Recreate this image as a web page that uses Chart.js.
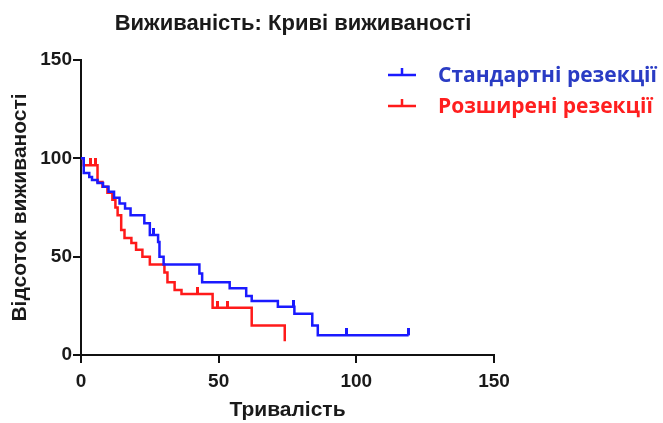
<!DOCTYPE html>
<html>
<head>
<meta charset="utf-8">
<script src="https://cdn.jsdelivr.net/npm/chart.js@4"></script>
<style>
  html, body { margin: 0; padding: 0; background: #fff; }
  #wrap { width: 663px; height: 423px; position: relative; }
</style>
</head>
<body>
<div id="wrap"><canvas id="kmChart"></canvas></div>
<script>
// Стандартні резекції: час події та частка, що вижили після неї
const stdTimes = [0, 1, 3, 4, 6, 8, 10, 12, 14, 16, 18, 23, 25, 28, 28.5, 30, 43, 44, 54, 60, 62, 71.5, 77.5, 84, 86, 119];
const stdSurv  = [100, 92.5, 90.5, 89, 87.5, 85.5, 83, 80, 77, 74.5, 71, 67, 61, 57.5, 50, 46, 41.5, 37, 34, 30, 27.5, 24.5, 21, 15, 10, 10];
const stdCensTimes = [26.5, 77, 96.5, 119];
const stdCensSurv  = [61, 24.5, 10, 10];

// Розширені резекції
const extTimes = [0, 1, 6, 7.8, 9.6, 11.4, 12.5, 13.3, 14.6, 15.8, 18.3, 20, 22.3, 25, 30.3, 31.4, 34, 36.5, 47.8, 62, 74];
const extSurv  = [100, 96.5, 88, 85.5, 82.5, 79, 75, 71, 63.5, 59.5, 57, 53.5, 50, 46, 42, 37, 33, 31, 24, 15, 7];
const extCensTimes = [3.4, 5.3, 42.3, 49.6, 53.2];
const extCensSurv  = [96.5, 96.5, 31, 24, 24];

const chartTitle = 'Виживаність: Криві виживаності';
const seriesNames = ['Стандартні резекції', 'Розширені резекції'];
const lineColors = ['#1a1aff', '#ff1a1a'];
const legendText = ['#2a3cc4', '#ff1f1f'];

const xTickValues = [0, 50, 100, 150];
const yTickValues = [0, 50, 100, 150];

function pts(xs, ys) { return xs.map((x, i) => ({ x: x, y: ys[i] })); }

// censor mark: short tick pointing up from the curve
function censorMark(color) {
    const c = document.createElement('canvas');
    c.width = 3; c.height = 14;
    const g = c.getContext('2d');
    g.fillStyle = color;
    g.fillRect(0, 0, 3, 7);
    return c;
}

// title + legend drawn by hand so they sit where the original has them
const headerPlugin = {
    id: 'kmHeader',
    afterDraw(chart) {
        const ctx = chart.ctx;
        ctx.save();
        ctx.fillStyle = '#1a1a1a';
        ctx.font = 'bold 22px "Liberation Sans", Arial';
        ctx.textAlign = 'center';
        ctx.textBaseline = 'middle';
        ctx.fillText(chartTitle, 293, 24);

        ctx.textAlign = 'left';
        seriesNames.forEach((name, i) => {
            const y = 75 + i * 31;
            ctx.strokeStyle = lineColors[i];
            ctx.lineWidth = 2.5;
            ctx.beginPath();
            ctx.moveTo(388, y); ctx.lineTo(416, y);
            ctx.moveTo(402, y); ctx.lineTo(402, y - 7);
            ctx.stroke();
            ctx.fillStyle = legendText[i];
            ctx.font = 'bold 21px "Open Sans"';
            ctx.fillText(name, 438, y + 1);
        });
        ctx.restore();
    }
};

const tickFont = { family: '"Liberation Sans", Arial', size: 19, weight: 'bold' };
const titleFont = { family: '"Liberation Sans", Arial', size: 21, weight: 'bold' };

new Chart(document.getElementById('kmChart'), {
    type: 'line',
    data: {
        datasets: [
            { label: seriesNames[0], data: pts(stdTimes, stdSurv), borderColor: lineColors[0], borderWidth: 2.5, pointRadius: 0, stepped: 'before', fill: false },
            { label: seriesNames[1], data: pts(extTimes, extSurv), borderColor: lineColors[1], borderWidth: 2.5, pointRadius: 0, stepped: 'before', fill: false },
            { label: 'c1', data: pts(stdCensTimes, stdCensSurv), showLine: false, pointStyle: censorMark(lineColors[0]), pointRadius: 5 },
            { label: 'c2', data: pts(extCensTimes, extCensSurv), showLine: false, pointStyle: censorMark(lineColors[1]), pointRadius: 5 }
        ]
    },
    options: {
        responsive: true,
        maintainAspectRatio: false,
        animation: false,
        devicePixelRatio: 1,
        layout: { padding: { left: 0, right: 169, top: 60, bottom: 0 } },
        plugins: {
            legend: { display: false },
            tooltip: { enabled: false },
            title: { display: false }
        },
        scales: {
            x: {
                type: 'linear',
                min: 0, max: 150,
                afterBuildTicks: s => { s.ticks = xTickValues.map(v => ({ value: v })); },
                afterFit: s => { s.height = 68; },
                border: { color: '#111', width: 2 },
                grid: { drawOnChartArea: false, color: '#111', lineWidth: 2, tickLength: 8 },
                ticks: { color: '#1a1a1a', font: tickFont, padding: 7, maxRotation: 0 },
                title: { display: true, text: 'Тривалість', color: '#1a1a1a', font: titleFont, padding: { top: 0, bottom: 0 } }
            },
            y: {
                min: 0, max: 150,
                afterBuildTicks: s => { s.ticks = yTickValues.map(v => ({ value: v })); },
                afterFit: s => { s.width = 81; },
                border: { color: '#111', width: 2 },
                grid: { drawOnChartArea: false, color: '#111', lineWidth: 2, tickLength: 8 },
                ticks: { color: '#1a1a1a', font: tickFont, padding: 1 },
                title: { display: true, text: 'Відсоток виживаності', color: '#1a1a1a', font: titleFont, padding: { top: 8, bottom: 0 } }
            }
        }
    },
    plugins: [headerPlugin]
});
</script>
</body>
</html>
